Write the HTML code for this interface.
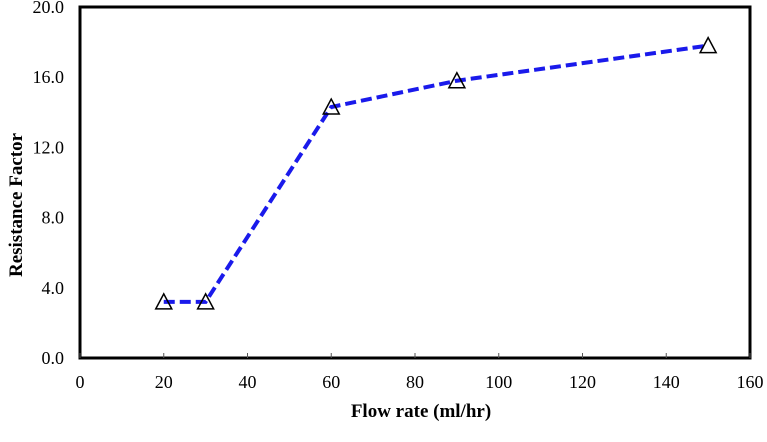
<!DOCTYPE html>
<html><head><meta charset="utf-8"><style>
html,body{margin:0;padding:0;background:#fff;}
svg{display:block;font-family:"Liberation Serif",serif;}
</style></head><body>
<svg id="chart" width="767" height="442">
<g id="axes"></g>
<g id="series"></g>
<text transform="translate(22,205) rotate(-90)" text-anchor="middle" font-size="19" font-weight="bold">Resistance Factor</text>
<text x="421" y="417" text-anchor="middle" font-size="19" font-weight="bold">Flow rate (ml/hr)</text>
</svg>
<script>
const flowRates=[20,30,60,90,150];
const resistance=[3.2,3.2,14.3,15.8,17.8];
const xTicks=[0,20,40,60,80,100,120,140,160];
const yTicks=[0,4,8,12,16,20];
const yTickLabels=["0.0","4.0","8.0","12.0","16.0","20.0"];
const L=80,R=750,T=7,B=358;
const sx=v=>L+(v-0)/(160-0)*(R-L);
const sy=v=>B-(v-0)/(20-0)*(B-T);
const NS="http://www.w3.org/2000/svg";
const ax=document.getElementById('axes'),se=document.getElementById('series');
function mk(tag,attrs,parent){const e=document.createElementNS(NS,tag);for(const k in attrs)e.setAttribute(k,attrs[k]);parent.appendChild(e);return e;}
const frame=mk('rect',{x:L,y:T,width:R-L,height:B-T,fill:'none',stroke:'#000','stroke-width':3},ax);


xTicks.forEach(v=>{
 const t=mk('line',{x1:sx(v),x2:sx(v),y1:B,y2:B-5,stroke:'#555','stroke-width':1},ax);
 
 
 const l=mk('text',{x:sx(v),y:B+30,'text-anchor':'middle','font-size':18},ax);
 l.textContent=v;
 
 
});
yTicks.forEach((v,i)=>{
 const l=mk('text',{x:L-16,y:sy(v)+6,'text-anchor':'end','font-size':18},ax);
 l.textContent=yTickLabels[i];
 
 
});
const pts=flowRates.map((f,i)=>sx(f)+','+sy(resistance[i])).join(' ');
const line=mk('polyline',{points:pts,fill:'none',stroke:'#1a1aeb','stroke-width':4,'stroke-dasharray':'11 5'},se);


flowRates.forEach((f,i)=>{
 const x=sx(f),y=sy(resistance[i]);
 const m=mk('polygon',{points:`${x},${y-8} ${x-8},${y+7} ${x+8},${y+7}`,fill:'#fff','fill-opacity':0,stroke:'#000','stroke-width':1.5},se);
 
 
});
</script>
</body></html>
